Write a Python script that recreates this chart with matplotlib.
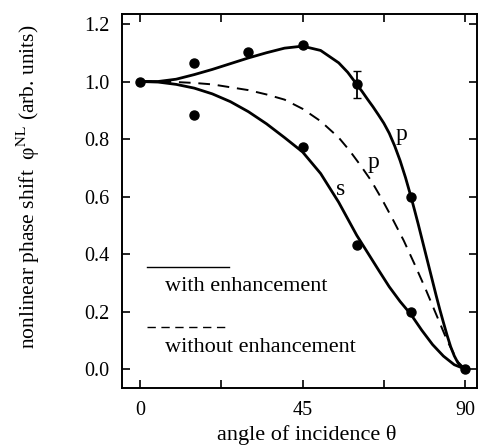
import matplotlib
matplotlib.use("Agg")
import matplotlib.pyplot as plt

plt.rcParams['font.family'] = ['Liberation Serif', 'DejaVu Serif']
plt.rcParams['mathtext.fontset'] = 'stix'

# measured points
pt_angle = [0, 15, 15, 30, 45, 45, 60, 60, 75, 75, 90]
pt_phase = [1.0, 1.064, 0.882, 1.102, 1.128, 0.772, 0.992, 0.432, 0.598, 0.20, 0.0]
err_angle = [60]
err_phase = [0.99]
err_size = [0.048]

# p polarisation, with enhancement (solid)
p_angle = [0, 5, 10, 15, 20, 25, 30, 35, 40, 45, 50, 55, 57.5, 60, 61.5, 63, 64.5,
           66, 67.5, 69, 70.5, 72, 73.5, 75, 76, 77, 78, 79, 80, 81, 82, 83, 84,
           85, 86, 87, 88, 89, 90]
p_phase = [1.0, 1.0, 1.008, 1.024, 1.042, 1.062, 1.082, 1.1, 1.116, 1.123, 1.108,
           1.065, 1.032, 0.99, 0.965, 0.938, 0.912, 0.884, 0.855, 0.82, 0.776,
           0.725, 0.666, 0.60, 0.553, 0.505, 0.455, 0.405, 0.355, 0.305, 0.255,
           0.207, 0.162, 0.118, 0.078, 0.046, 0.022, 0.007, 0.0]

# s polarisation, with enhancement (solid)
s_angle = [0, 5, 10, 15, 20, 25, 30, 35, 40, 45, 50, 55, 60, 63, 66, 69, 72, 75,
           78, 81, 84, 87, 90]
s_phase = [1.0, 0.998, 0.99, 0.977, 0.957, 0.93, 0.895, 0.853, 0.805, 0.755, 0.68,
           0.58, 0.465, 0.405, 0.345, 0.286, 0.235, 0.19, 0.135, 0.085, 0.045, 0.015, 0.0]

# p polarisation, without enhancement (dashed)
d_angle = [0, 5, 10, 15, 20, 25, 30, 35, 40, 45, 50, 55, 58, 61, 64, 67, 70, 73,
           76, 79, 82, 85, 88, 90]
d_phase = [1.0, 1.0, 0.998, 0.995, 0.99, 0.98, 0.97, 0.955, 0.937, 0.905, 0.862,
           0.805, 0.76, 0.709, 0.655, 0.59, 0.52, 0.447, 0.365, 0.28, 0.19, 0.10,
           0.025, 0.0]

fig = plt.figure(figsize=(4.83, 4.48), dpi=100)
ax = fig.add_axes([0.2526, 0.1339, 0.735, 0.835])

ax.plot(p_angle, p_phase, '-k', lw=2.0)
ax.plot(s_angle, s_phase, '-k', lw=2.0)
ax.plot(d_angle, d_phase, '--k', lw=1.4, dashes=(6, 4))
ax.plot(pt_angle, pt_phase, 'ok', ms=6.5)
ax.errorbar(err_angle, err_phase, yerr=err_size, fmt='none', ecolor='k',
            elinewidth=1.3, capsize=3)

ax.text(72.5, 0.814, 'p', fontsize=17, ha='center', va='center')
ax.text(64.6, 0.72, 'p', fontsize=17, ha='center', va='center')
ax.text(55.4, 0.623, 's', fontsize=17, ha='center', va='center')

# hand drawn legend
ax.plot([0.07, 0.30], [0.324, 0.324], '-k', lw=1.0, transform=ax.transAxes)
ax.text(0.121, 0.271, 'with enhancement', fontsize=16, va='center',
        transform=ax.transAxes)
ax.plot([0.07, 0.30], [0.164, 0.164], '--k', lw=1.0, dashes=(6, 4),
        transform=ax.transAxes)
ax.text(0.121, 0.107, 'without enhancement', fontsize=16, va='center',
        transform=ax.transAxes)

ax.set_xlim(-5, 93.3)
ax.set_ylim(-0.066, 1.235)
ax.set_xticks([0, 22.5, 45, 67.5, 90])
ax.set_xticklabels(['0', '', '45', '', '90'])
ax.set_yticks([0.0, 0.2, 0.4, 0.6, 0.8, 1.0, 1.2])
ax.set_yticklabels(['0.0', '0.2', '0.4', '0.6', '0.8', '1.0', '1.2'])
ax.tick_params(direction='in', top=True, right=True, length=6, width=1.2,
               labelsize=14.5, pad=9)
for sp in ax.spines.values():
    sp.set_linewidth(1.4)

ax.set_xlabel('angle of incidence θ', fontsize=16)
ax.xaxis.set_label_coords(0.521, -0.099)
ax.set_ylabel('nonlinear phase shift  φ$^{\\rm NL}$ (arb. units)', fontsize=15.5)
ax.yaxis.set_label_coords(-0.225, 0.537)

fig.savefig('out.png', dpi=100)
